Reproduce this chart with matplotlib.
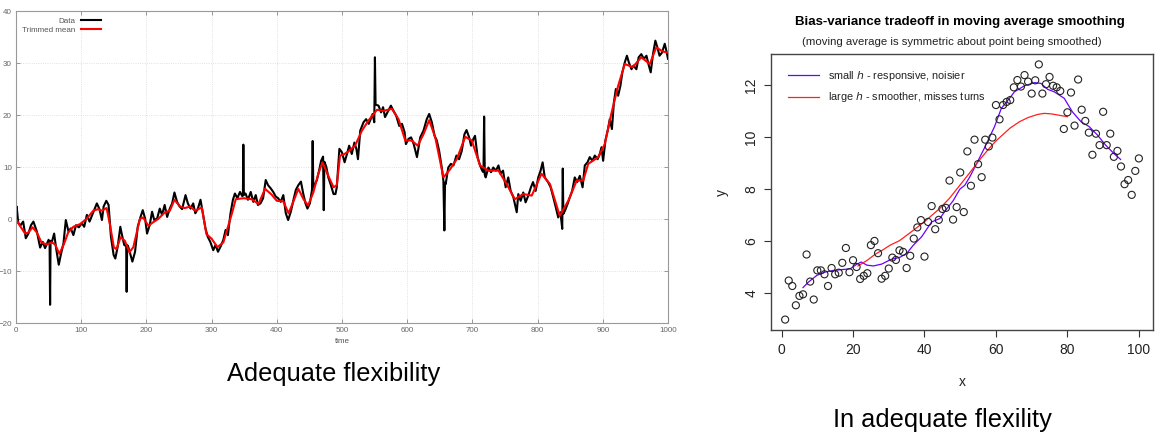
import numpy as np
import matplotlib
matplotlib.use("Agg")
import matplotlib.pyplot as plt

plt.rcParams['font.family'] = ['Liberation Sans', 'DejaVu Sans']

# ---- left panel: time series + trimmed mean
data_t = [0, 1, 3.5, 7, 11, 15, 19, 23, 26.7, 32, 37, 41, 44.6, 50, 51.5, 52.3, 53, 55,
          58.5, 61.5, 65.6, 68.7, 72.8, 76.4, 80.5, 84, 88, 92, 96.4, 101, 104.6, 108.7,
          112.8, 118, 124, 128, 131.8, 134.4, 138.5, 142, 145.6, 149.7, 152.3, 156, 160,
          162.6, 166, 169, 169.7, 170.5, 172, 175, 178.5, 182.6, 186.7, 191, 194.4, 198,
          201, 205, 208.7, 212, 216.5, 220.5, 224, 228, 231.8, 235.9, 239.5, 243, 247,
          251, 254.8, 260, 263.6, 267.7, 271.8, 275, 279, 283, 287, 290.6, 294, 298,
          302.5, 306, 309.8, 313.8, 318, 321.5, 325, 329, 332.7, 335.8, 339.5, 343.5, 347,
          348, 348.7, 349.5, 352, 355.8, 360, 364, 367.7, 371, 375, 379, 383, 386.6,
          390.6, 394.6, 398.4, 402, 406, 410, 413.8, 417.4, 421.5, 425.6, 429.2, 433, 437,
          440.5, 444, 447, 450.7, 454, 455, 456, 461.5, 465, 468, 471, 472, 473, 476, 479,
          483, 487, 490, 492, 496, 500, 504, 507.6, 511, 515, 519, 522, 524.5, 528, 533,
          537, 541, 544, 547, 549.5, 550.5, 551.5, 556, 560, 563, 566, 571, 575, 579, 583,
          587.8, 592, 596, 598, 602, 606, 610, 615, 620, 625, 630, 633.7, 637.8, 642,
          645.4, 649, 653, 655.5, 657, 658, 659, 663, 667, 671, 675.5, 679.6, 683.7,
          687.8, 691, 695, 698, 701.5, 704, 708, 711.7, 715, 717, 718, 719, 720.4, 724.5,
          728.6, 732, 736, 740, 743, 747, 751, 755, 758.7, 762.8, 768, 770.4, 774, 778,
          781.6, 785.7, 789.8, 793, 797, 801, 804.6, 807.7, 811, 816, 820, 824, 828,
          831.6, 835, 837.8, 838.6, 839.5, 842, 846, 849.5, 853, 857, 860.7, 864.8, 869,
          872.4, 876.5, 880, 884, 887.8, 892, 895.4, 898, 900.5, 904, 908, 910.7, 914,
          917, 920, 923.5, 927, 930, 933.7, 937, 940, 944, 947, 951.5, 955, 959, 963, 967,
          970, 973.5, 977, 980.6, 983.7, 987, 990.8, 995, 997.4, 1000]
data_v = [0.5, 2.4, -0.8, -1.2, -0.5, -3.7, -2.8, -1.2, -0.5, -2.4, -5.5, -4.4, -5.6, -4.0,
          -4.6, -16.5, -4.2, -4.4, -2.8, -5.6, -8.8, -6.9, -4.7, -0.2, -2.4, -1.8, -3.1,
          -1.2, -1.6, -0.8, -1.5, 0.8, -0.5, 1.1, 3.0, 1.9, -0.2, 2.4, 3.5, 2.7, -3.4,
          -6.9, -7.6, -5.3, -1.5, -3.1, -5.0, -5.2, -14.0, -5.0, -5.3, -6.6, -8.2, -6.3,
          -1.5, 0.4, 1.7, 0.1, -2.8, -1.2, 1.4, -0.2, 0.1, 2.0, 0.8, 2.7, 0.4, 2.0, 3.0,
          5.1, 3.3, 2.4, 1.9, 4.6, 3.0, 2.0, 3.0, 1.1, 2.0, 3.7, 0.8, -1.8, -3.4, -4.4,
          -6.0, -5.0, -6.3, -5.3, -4.0, -2.1, -3.1, 1.1, 3.7, 4.9, 4.0, 5.2, 4.4, 4.5,
          14.3, 4.6, 4.9, 3.7, 5.2, 3.3, 4.6, 2.7, 3.0, 4.0, 7.5, 6.5, 5.9, 5.2, 4.3, 4.0,
          3.3, 4.6, 1.1, -0.2, 1.4, 3.7, 5.6, 6.5, 7.2, 4.9, 3.0, 2.0, 3.0, 5.6, 15.0,
          6.0, 7.5, 9.4, 11.2, 12.0, 1.7, 11.0, 10.0, 8.0, 6.5, 4.8, 4.8, 6.1, 13.5, 12.8,
          10.9, 12.5, 14.1, 12.5, 14.7, 13.5, 11.5, 17.0, 18.6, 19.2, 18.3, 19.2, 20.2,
          18.6, 31.1, 22.0, 21.8, 20.5, 21.5, 19.6, 20.8, 21.8, 20.8, 19.9, 17.9, 18.3,
          16.7, 14.4, 15.4, 15.7, 14.4, 11.9, 15.7, 17.0, 19.2, 20.2, 18.6, 16.0, 15.1,
          13.1, 9.9, 7.4, -2.2, 7.0, 6.7, 9.9, 10.6, 10.3, 12.2, 11.5, 13.1, 16.3, 17.1,
          15.7, 14.1, 15.4, 16.0, 11.9, 10.3, 9.3, 9.0, 19.7, 8.5, 8.0, 9.9, 9.0, 9.9,
          9.3, 10.3, 8.7, 9.3, 6.1, 8.0, 5.4, 4.2, 1.3, 4.8, 3.5, 5.1, 3.2, 4.5, 6.1, 7.1,
          5.4, 8.0, 9.3, 10.9, 8.0, 7.1, 6.1, 4.2, 2.2, 0.3, 1.3, -1.9, 9.7, 1.0, 1.6,
          2.9, 4.2, 5.4, 8.0, 7.1, 8.3, 6.1, 10.3, 10.9, 11.9, 11.2, 12.2, 11.5, 12.5,
          13.8, 11.2, 15.1, 17.3, 19.2, 17.3, 22.4, 25.0, 23.7, 25.6, 28.2, 30.1, 31.4,
          30.1, 28.8, 29.5, 28.8, 31.1, 31.7, 30.8, 31.4, 29.8, 28.2, 31.7, 34.3, 33.0,
          31.4, 32.0, 33.7, 32.4, 30.8]

trim_t = [0, 6, 14, 19, 25.5, 32, 39, 47, 55, 60, 66.5, 73.6, 80, 88, 98, 108, 118.6, 126,
          131, 139, 144, 150, 154, 160.5, 167, 174, 180, 190, 195, 203, 210.6, 218, 228.5,
          236, 243, 251.5, 259, 267, 274.5, 285, 292, 300, 309, 318, 331, 337, 349, 361.5,
          372, 382, 392, 400, 410, 418, 425, 433, 441, 448, 456, 463.7, 470, 479, 487,
          492, 497, 502.5, 510, 520, 530.6, 541, 553.6, 564, 576.5, 586.7, 597, 607, 616,
          625, 633.7, 643, 655.6, 666, 676, 689, 699, 711.7, 724.5, 740, 752.6, 765, 778,
          791, 806, 819, 834, 847, 860, 870, 877.6, 893, 903, 913, 923.5, 933.7, 946, 959,
          972, 982, 992, 1000]
trim_v = [0, -1.3, -2.8, -2.6, -1.6, -2.6, -4.5, -4.9, -4.5, -4.9, -6.7, -4.8, -2.6, -1.5,
          -1.0, 0, 1.6, 1.9, 1.6, 2.1, -1.0, -5.4, -5.8, -3.5, -4.2, -6.4, -5.4, 0, 0.3,
          -1.3, -0.6, 0, 1.3, 1.6, 3.7, 2.4, 2.1, 2.4, 1.6, 2.2, -2.9, -3.8, -5.4, -4.5,
          1.0, 3.8, 4.0, 3.8, 2.9, 5.8, 4.7, 3.5, 3.4, 1.1, 3.2, 5.8, 3.8, 2.6, 5.1, 8.7,
          10.9, 8.3, 6.1, 6.5, 12.2, 12.4, 13.0, 14.1, 17.0, 19.0, 21.0, 20.8, 21.2, 19.2,
          15.1, 15.1, 14.1, 16.3, 19.0, 15.7, 8.0, 9.6, 11.5, 15.8, 15.1, 10.3, 9.3, 9.3,
          6.7, 3.8, 4.8, 4.5, 8.7, 6.7, 0.6, 3.5, 7.4, 7.4, 10.6, 11.9, 14.4, 20.2, 25.6,
          29.8, 29.2, 31.1, 29.8, 33.0, 32.2, 32.0]

# ---- right panel: scatter + two moving averages
pts_x = list(range(1, 101))
pts_y = [2.99, 4.49, 4.28, 3.54, 3.90, 3.96, 5.49, 4.45, 3.76, 4.88,
         4.88, 4.73, 4.28, 4.97, 4.73, 4.79, 5.17, 5.74, 4.81, 5.27,
         5.01, 4.55, 4.67, 4.77, 5.85, 6.01, 5.54, 4.56, 4.67, 4.95,
         5.37, 5.28, 5.65, 5.59, 4.97, 5.44, 6.10, 6.53, 6.81, 5.41,
         6.74, 7.35, 6.46, 6.82, 7.24, 7.28, 8.33, 6.83, 7.31, 8.64,
         7.12, 9.45, 8.13, 9.90, 8.96, 8.46, 9.90, 9.64, 9.98, 11.23,
         10.68, 11.23, 11.35, 11.42, 11.91, 12.19, 11.94, 12.38, 12.13, 11.67,
         12.18, 12.79, 11.67, 12.03, 12.31, 11.97, 11.91, 11.77, 10.31, 10.95,
         11.71, 10.44, 12.21, 11.05, 10.62, 10.17, 9.32, 10.13, 9.69, 10.97,
         9.69, 10.13, 9.24, 9.47, 8.87, 8.19, 8.35, 7.78, 8.70, 9.18]

small_x = [6.0, 7.6, 9.9, 12.3, 14.6, 16.9, 19.2, 21.1, 22.3, 23.9, 25.7, 28.0, 30.6, 33.1,
           35, 36.9, 39.2, 42, 44.3, 45.7, 48, 49.9, 51.3, 52.6, 54.3, 56.6, 58.7, 59.6,
           61.5, 63.8, 65.2, 68, 70.8, 72.6, 74.5, 76.3, 79.1, 81.4, 83.8, 86.1, 88.4,
           90.7, 93.0, 94.9]
small_y = [4.22, 4.44, 4.69, 4.82, 4.88, 4.91, 4.94, 5.12, 5.2, 5.08, 5.05, 5.12, 5.3, 5.38,
           5.53, 5.85, 6.17, 6.74, 6.87, 7.15, 7.55, 8.0, 8.15, 8.45, 8.9, 9.53, 10.14, 10.4,
           11.1, 11.49, 11.74, 11.97, 12.09, 12.06, 11.83, 11.74, 11.49, 10.97, 10.59,
           10.40, 10.08, 9.69, 9.37, 9.14]

large_x = [21.4, 24, 26.2, 28.5, 30.4, 33, 36.9, 40, 44.3, 47, 49.9, 52.5, 55.4, 58, 60,
           62, 64, 66.6, 69, 71.7, 73.5, 75.5, 77.2, 80]
large_y = [5.05, 5.27, 5.5, 5.68, 5.85, 6.02, 6.42, 6.75, 7.26, 7.65, 8.15, 8.6, 9.12, 9.55,
           9.85, 10.1, 10.35, 10.59, 10.75, 10.87, 10.91, 10.89, 10.85, 10.78]

W, H = 1161, 440
fig = plt.figure(figsize=(W / 100, H / 100), dpi=100)


def box(x0, y0, x1, y1):
    # pixel box -> figure fraction
    return [x0 / W, 1 - y1 / H, (x1 - x0) / W, (y1 - y0) / H]


# left, gnuplot-ish look
ax1 = fig.add_axes(box(16, 11, 668, 323))
ax1.plot(data_t, data_v, color='black', lw=1.5, label='Data')
ax1.plot(trim_t, trim_v, color='#ff0000', lw=1.5, label='Trimmed mean')
ax1.set_xlim(0, 1000)
ax1.set_ylim(-20, 40)
ax1.set_xticks(range(0, 1001, 100))
ax1.set_yticks(range(-20, 41, 10))
ax1.grid(True, color='#d8d8d8', linestyle=':', lw=0.6)
ax1.tick_params(direction='in', length=3, width=0.6, color='#888888', labelsize=5.8,
                labelcolor='#666666', top=True, right=True, pad=3)
for s in ax1.spines.values():
    s.set_color('#999999')
    s.set_linewidth(0.8)
ax1.set_xlabel('time', fontsize=5.8, color='#555555', labelpad=3)
ax1.legend(loc='upper left', bbox_to_anchor=(0.0, 1.0), frameon=False, fontsize=5.8,
           markerfirst=False, handlelength=2.6, handletextpad=0.6, labelspacing=0.1,
           borderaxespad=0.4, labelcolor='#555555')

# right, base-R look
ax2 = fig.add_axes(box(771, 54, 1153, 330))
ax2.scatter(pts_x, pts_y, s=26, facecolors='none', edgecolors='#222222', linewidths=0.8,
            zorder=3)
ax2.plot(small_x, small_y, color='#6a00ff', lw=0.9,
         label=r'small $h$ - responsive, noisier')
ax2.plot(large_x, large_y, color='#ff1f1f', lw=0.9,
         label=r'large $h$ - smoother, misses turns')
ax2.set_xlim(-2.96, 103.96)
ax2.set_ylim(2.59, 13.19)
ax2.set_xticks(range(0, 101, 20))
ax2.set_yticks(range(4, 13, 2))
ax2.tick_params(direction='out', length=5, width=0.8, color='#333333', labelsize=10,
                labelcolor='#222222', pad=4)
for lab in ax2.get_yticklabels():
    lab.set_rotation(90)
    lab.set_va('center')
for s in ax2.spines.values():
    s.set_color('#444444')
    s.set_linewidth(1.0)
ax2.set_xlabel('x', fontsize=10, color='#222222', labelpad=13)
ax2.set_ylabel('y', fontsize=10, color='#222222', labelpad=11)
ax2.legend(loc='upper left', bbox_to_anchor=(0.02, 0.98), frameon=False, fontsize=7.8,
           handlelength=2.8, handletextpad=0.9, labelspacing=0.65, labelcolor='#222222')

fig.text(960 / W, 1 - 22 / H, 'Bias-variance tradeoff in moving average smoothing',
         ha='center', va='center', fontsize=9.5, fontweight='bold')
fig.text(952 / W, 1 - 42 / H, '(moving average is symmetric about point being smoothed)',
         ha='center', va='center', fontsize=8.2, color='#222222')

fig.text(334 / W, 1 - 374 / H, 'Adequate flexibility', ha='center', va='center',
         fontsize=18.3)
fig.text(942 / W, 1 - 420 / H, 'In adequate flexility', ha='center', va='center',
         fontsize=18.3)

fig.savefig('out.png', dpi=100)
